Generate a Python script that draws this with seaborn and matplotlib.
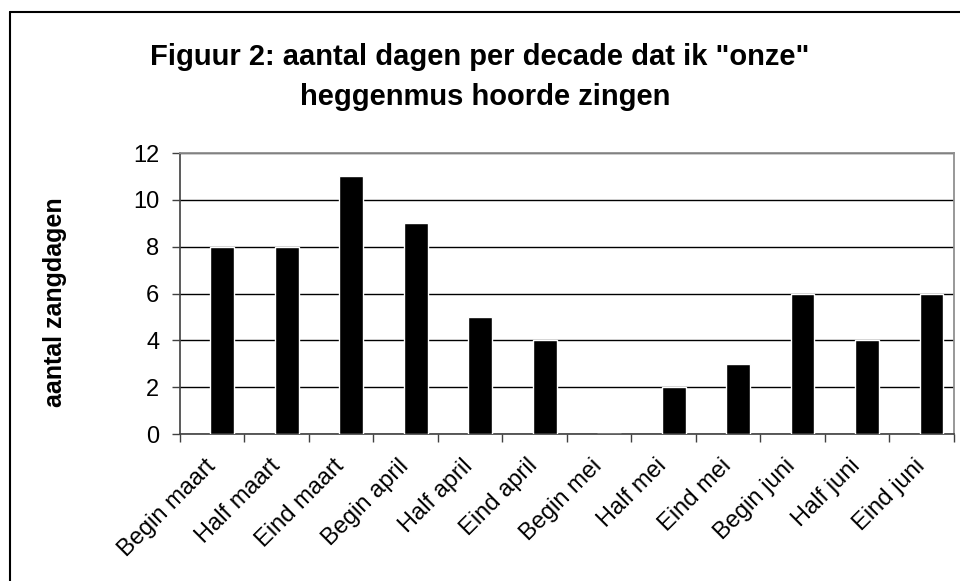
import numpy as np
import seaborn as sns
import matplotlib.pyplot as plt
from matplotlib.lines import Line2D

# data
decades = ['Begin maart', 'Half maart', 'Eind maart', 'Begin april', 'Half april',
           'Eind april', 'Begin mei', 'Half mei', 'Eind mei', 'Begin juni',
           'Half juni', 'Eind juni']
zangdagen = [8, 8, 11, 9, 5, 4, 0, 2, 3, 6, 4, 6]
y_ticks = [0, 2, 4, 6, 8, 10, 12]

sns.set_style('white')
plt.rcParams['font.family'] = ['Liberation Sans', 'DejaVu Sans']
plt.rcParams['text.color'] = 'black'
plt.rcParams['xtick.color'] = 'black'
plt.rcParams['ytick.color'] = 'black'
plt.rcParams['axes.labelcolor'] = 'black'

fig = plt.figure(figsize=(9.6, 5.81), dpi=100)
ax = fig.add_axes([0.1875, 0.253, 0.806, 0.4836])

sns.barplot(x=decades, y=zangdagen, color='black', width=0.37,
            saturation=1, ax=ax, zorder=3)

# bars sit a little right of the category centre, as in the original
shift = 0.155
ax.set_xlim(-0.5 - shift, len(decades) - 0.5 - shift)
ax.set_ylim(0, 12)
ax.set_yticks(y_ticks)
ax.set_yticklabels([str(v) for v in y_ticks], fontsize=17)
ax.yaxis.grid(True, color='black', linewidth=1, zorder=0)

bounds = np.arange(len(decades) + 1) - 0.5 - shift
ax.set_xticks(bounds)
ax.set_xticklabels([''] * len(bounds))
ax.set_xticks(np.arange(len(decades)) - 0.28, minor=True)
ax.set_xticklabels(decades, minor=True, rotation=45, ha='right',
                   rotation_mode='anchor', fontsize=17)
ax.tick_params(axis='x', which='major', direction='out', length=6, width=1,
               color='#404040', bottom=True)
ax.tick_params(axis='x', which='minor', length=0, pad=15)
ax.tick_params(axis='y', direction='out', length=6, width=1, color='#404040',
               left=True, pad=9)

for side in ['top', 'right']:
    ax.spines[side].set_color('#909090')
    ax.spines[side].set_linewidth(1.3)
for side in ['left', 'bottom']:
    ax.spines[side].set_color('#404040')
    ax.spines[side].set_linewidth(1.2)

ax.set_xlabel('')
fig.text(55 / 960, 1 - 302 / 581, 'aantal zangdagen', rotation=90, ha='center',
         va='center', fontsize=18, fontweight='bold')

fig.text(0.5, 1 - 65 / 581, 'Figuur 2: aantal dagen per decade dat ik "onze"',
         ha='center', va='baseline', fontsize=21, fontweight='bold')
fig.text(0.505, 1 - 105 / 581, 'heggenmus hoorde zingen',
         ha='center', va='baseline', fontsize=21, fontweight='bold')

# chart frame: only its top and left edges fall inside the picture
x0, y0 = 9.5 / 960, 1 - 11.5 / 581
fig.add_artist(Line2D([x0, x0], [0, y0], color='black', linewidth=1.5))
fig.add_artist(Line2D([x0, 1], [y0, y0], color='black', linewidth=1.5))

fig.savefig('out.png', dpi=100)
